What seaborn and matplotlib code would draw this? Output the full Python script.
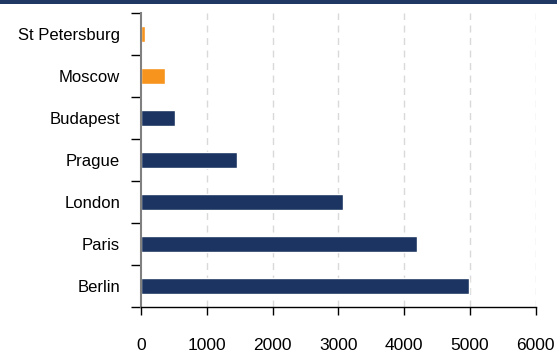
import matplotlib
matplotlib.use("Agg")
import matplotlib.pyplot as plt
import seaborn as sns
import pandas as pd
from matplotlib.patches import Rectangle

cities = ["St Petersburg", "Moscow", "Budapest", "Prague", "London", "Paris", "Berlin"]
values = [60, 365, 515, 1460, 3070, 4190, 4980]
groups = ["east", "east", "west", "west", "west", "west", "west"]
group_colors = {"east": "#F7941D", "west": "#1B3461"}
x_ticks = [0, 1000, 2000, 3000, 4000, 5000, 6000]

sns.set_theme(style="white")
plt.rcParams["font.family"] = ["Liberation Sans", "DejaVu Sans"]

df = pd.DataFrame({"city": cities, "value": values, "group": groups})

fig = plt.figure(figsize=(5.57, 3.54), dpi=100)
ax = fig.add_axes([0.253, 0.133, 0.709, 0.830])

sns.barplot(data=df, x="value", y="city", hue="group", palette=group_colors,
            order=cities, width=0.4, dodge=False, legend=False, ax=ax,
            saturation=1)

ax.set_xlim(0, 6000)
ax.set_ylim(len(cities) - 0.5, -0.5)
ax.set_xticks(x_ticks)
ax.set_xticklabels([str(t) for t in x_ticks], fontsize=12.5, color="black")
ax.set_xlabel("")
ax.set_ylabel("")
ax.tick_params(axis="y", labelsize=12, labelcolor="black", length=0, pad=15)
ax.tick_params(axis="x", direction="out", length=5.5, width=1, color="black",
               pad=17, bottom=True)

# category separators on the value axis
ax.set_yticks([i + 0.5 for i in range(-1, len(cities))], minor=True)
ax.tick_params(axis="y", which="minor", direction="out", length=7, width=1,
               color="black", left=True)

for t in x_ticks[1:]:
    ax.axvline(t, color="#D9D9D9", linestyle=(0, (5, 4)), linewidth=1, zorder=0)

for side in ["top", "right"]:
    ax.spines[side].set_visible(False)
ax.spines["left"].set_color("#808080")
ax.spines["left"].set_linewidth(1.5)
ax.spines["bottom"].set_color("black")
ax.spines["bottom"].set_linewidth(1)

fig.patches.append(Rectangle((0, 1 - 4 / 354), 1, 4 / 354, transform=fig.transFigure,
                             facecolor="#1F3864", edgecolor="none"))

fig.savefig("out.png", dpi=100)
